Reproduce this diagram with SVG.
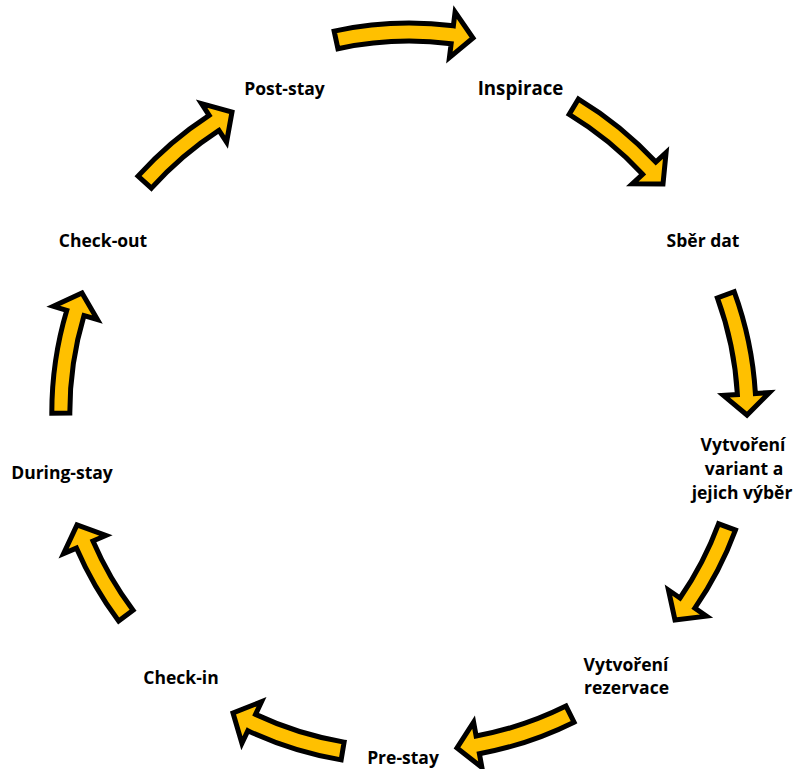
<svg xmlns="http://www.w3.org/2000/svg" width="797" height="769" viewBox="0 0 797 769">
<style>
.arrow{fill:#FFC000;stroke:#000;stroke-width:5;stroke-linejoin:miter;stroke-miterlimit:6}
.lbl{font-family:"Open Sans","Liberation Sans",Arial,sans-serif;font-weight:bold;font-size:17.5px;fill:#000;text-anchor:middle}
.big{font-size:18.7px}
</style>
<rect width="797" height="769" fill="#fff"/>
<g id="connectors">
<path class="arrow" transform="translate(473,38) rotate(10.55)" d="M-137.77,18.65 A357,357 0 0 1 -21.53,-8.35 L-22.37,-22.32 L0,0 L-19.6,23.59 L-20.44,9.62 A339,339 0 0 0 -130.82,35.26 Z"/>
<path class="arrow" transform="translate(663,184) rotate(50.66)" d="M-119.29,11.52 A357,357 0 0 1 -21.53,-8.35 L-22.37,-22.32 L0,0 L-19.6,23.59 L-20.44,9.62 A339,339 0 0 0 -113.27,28.48 Z"/>
<path class="arrow" transform="translate(747,415) rotate(90.1)" d="M-123.21,12.94 A357,357 0 0 1 -21.53,-8.35 L-22.37,-22.32 L0,0 L-19.6,23.59 L-20.44,9.62 A339,339 0 0 0 -117,29.83 Z"/>
<path class="arrow" transform="translate(675,620) rotate(128)" d="M-108.07,7.75 A357,357 0 0 1 -21.53,-8.35 L-22.37,-22.32 L0,0 L-19.6,23.59 L-20.44,9.62 A339,339 0 0 0 -102.62,24.91 Z"/>
<path class="arrow" transform="translate(457,748) rotate(173.06)" d="M-119.29,11.52 A357,357 0 0 1 -21.53,-8.35 L-22.37,-22.32 L0,0 L-19.6,23.59 L-20.44,9.62 A339,339 0 0 0 -113.27,28.48 Z"/>
<path class="arrow" transform="translate(233,713) rotate(208.7)" d="M-117.35,10.84 A357,357 0 0 1 -21.53,-8.35 L-22.37,-22.32 L0,0 L-19.6,23.59 L-20.44,9.62 A339,339 0 0 0 -111.43,27.84 Z"/>
<path class="arrow" transform="translate(77,525) rotate(250.2)" d="M-104.49,6.63 A357,357 0 0 1 -21.53,-8.35 L-22.37,-22.32 L0,0 L-19.6,23.59 L-20.44,9.62 A339,339 0 0 0 -99.22,23.84 Z"/>
<path class="arrow" transform="translate(82,293) rotate(290.1)" d="M-123.21,12.94 A357,357 0 0 1 -21.53,-8.35 L-22.37,-22.32 L0,0 L-19.6,23.59 L-20.44,9.62 A339,339 0 0 0 -117,29.83 Z"/>
<path class="arrow" transform="translate(232,112) rotate(330.46)" d="M-113.4,9.49 A357,357 0 0 1 -21.53,-8.35 L-22.37,-22.32 L0,0 L-19.6,23.59 L-20.44,9.62 A339,339 0 0 0 -107.68,26.56 Z"/>
</g>
<g id="inspirace"><text class="lbl big" x="520.5" y="95">Inspirace</text></g>
<g id="sber-dat"><text class="lbl" x="703" y="247">Sběr dat</text></g>
<g id="vytvoreni-variant"><text class="lbl" x="743" y="451">Vytvoření</text><text class="lbl" x="744" y="475">variant a</text><text class="lbl" x="742" y="499">jejich výběr</text></g>
<g id="vytvoreni-rezervace"><text class="lbl" x="626" y="671">Vytvoření</text><text class="lbl" x="626.5" y="694">rezervace</text></g>
<g id="pre-stay"><text class="lbl" x="403" y="764">Pre-stay</text></g>
<g id="check-in"><text class="lbl" x="181" y="684">Check-in</text></g>
<g id="during-stay"><text class="lbl" x="62" y="479">During-stay</text></g>
<g id="check-out"><text class="lbl" x="103" y="247">Check-out</text></g>
<g id="post-stay"><text class="lbl" x="284.5" y="95">Post-stay</text></g>
</svg>
